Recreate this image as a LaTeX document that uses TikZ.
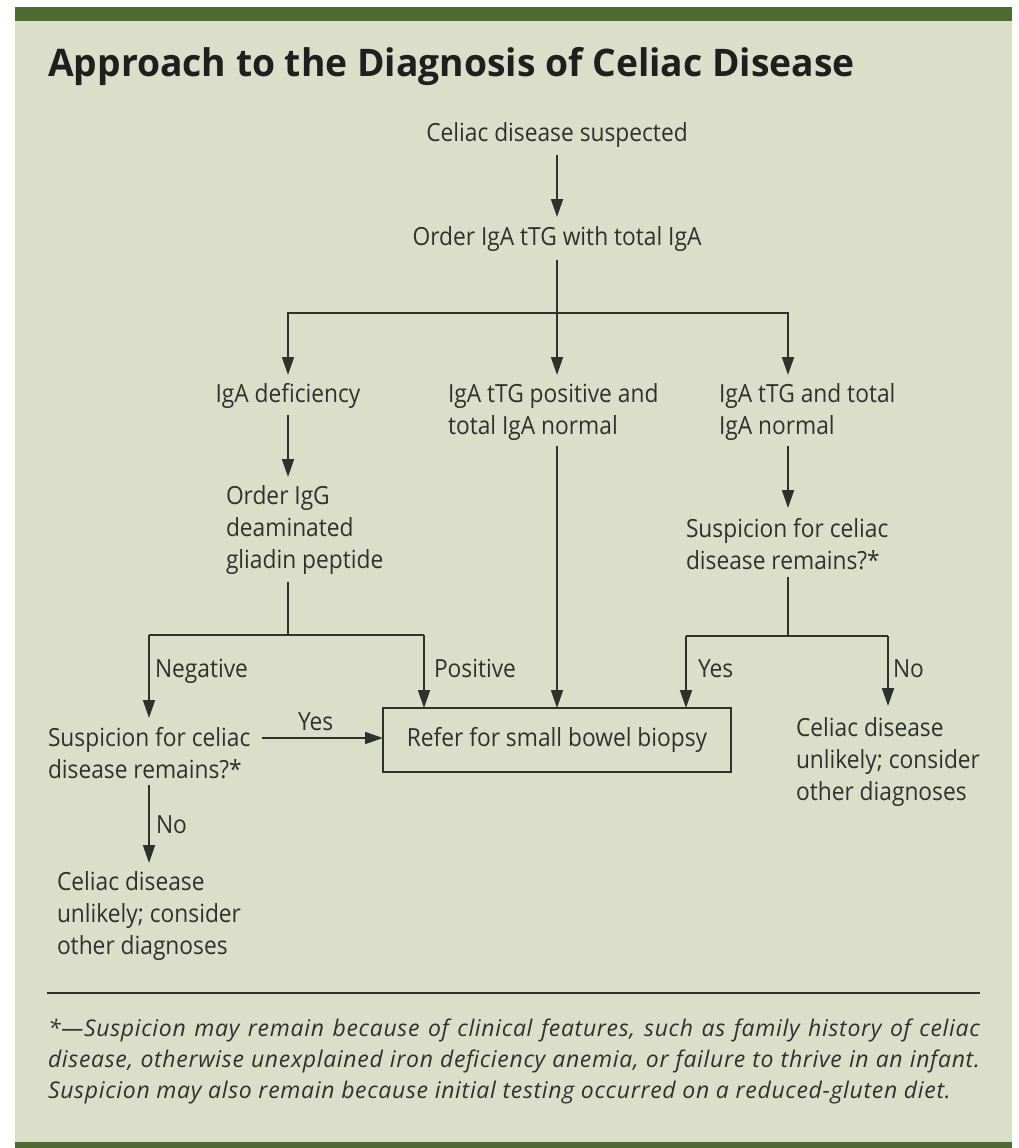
\documentclass[tikz,border=0pt]{standalone}
\usepackage{fontspec}
\setmainfont{Open Sans}[FakeStretch=0.91]
\newfontfamily\titlefont{Open Sans}[FakeStretch=0.98]
\newfontfamily\notefont{Open Sans}[FakeStretch=1.0, LetterSpace=3]
\usetikzlibrary{arrows.meta,calc}

\definecolor{panel}{HTML}{DBDFCA}
\definecolor{bar}{HTML}{4E6B31}
\definecolor{ink}{HTML}{2F312C}

\tikzset{
  body/.style={inner sep=0pt, outer sep=0pt, text=ink,
    font=\fontsize{25}{32}\selectfont},
  lbl/.style={body, anchor=base west},
  % multi-line blocks are placed by the baseline of their last line
  blk/.style={body, anchor=base west, align=left},
  wire/.style={draw=ink, line width=1.8pt},
  arr/.style={wire, -{Triangle[length=18pt,width=12pt]}},
  biopsybox/.style={body, draw=ink, line width=1.8pt,
    minimum width=348pt, minimum height=64pt},
  note/.style={inner sep=0pt, outer sep=0pt, anchor=base west, text=ink,
    font=\notefont\itshape\fontsize{23}{31}\selectfont},
}

\begin{document}
\begin{tikzpicture}[x=1pt, y=-1pt]
  \useasboundingbox (0,0) rectangle (1018,1148);
  \fill[white] (0,0) rectangle (1018,1148);
  % panel and green rules
  \fill[panel] (15,7) rectangle (1012,1148);
  \fill[bar] (15,7) rectangle (1012,21);
  \fill[bar] (15,1142) rectangle (1012,1148);

  % heading
  \node[anchor=base west, inner sep=0pt, text=black!88,
        font=\titlefont\fontsize{38}{44}\selectfont\bfseries] (title) at (48,77)
        {Approach to the Diagnosis of Celiac Disease};

  % steps
  \node[body, anchor=base] (susp) at (557,141) {Celiac disease suspected};
  \node[body, anchor=base] (order) at (557,245) {Order IgA tTG with total IgA};
  \node[body, anchor=base] (defic) at (288,402) {IgA deficiency};
  \node[blk] (pos) at (448,434) {IgA tTG positive and\\total IgA normal};
  \node[blk] (norm) at (719,434) {IgA tTG and total\\IgA normal};
  \node[blk] (ordg) at (226,568) {Order IgG\\deaminated\\gliadin peptide};
  \node[blk] (suspR) at (686,569) {Suspicion for celiac\\disease remains?*};
  \node[biopsybox] (biopsy) at (557,740) {Refer for small bowel biopsy};
  \node[blk] (suspL) at (48,778) {Suspicion for celiac\\disease remains?*};
  \node[blk] (unlL) at (57,954) {Celiac disease\\unlikely; consider\\other diagnoses};
  \node[blk] (unlR) at (796,800) {Celiac disease\\unlikely; consider\\other diagnoses};

  % branch points
  \coordinate (j1) at (557,313);
  \coordinate (j2) at (288,635);
  \coordinate (j3) at (788,636);
  \coordinate (jL) at (149,635);
  \coordinate (jP) at (424,635);
  \coordinate (jY) at (686,636);
  \coordinate (jN) at (888,636);

  % connectors
  \draw[arr] ($(susp.base)+(0,14)$) -- ($(order.base)+(0,-28)$);
  \draw[wire] ($(order.base)+(0,15)$) -- (j1);
  \draw[arr] (j1) -| ($(defic.base)+(0,-27)$);
  \draw[arr] (j1) -- ($(j1)+(0,62)$);
  \draw[arr] (j1) -| ($(norm.base -| j3)+(0,-59)$);

  \draw[arr] ($(defic.base)+(0,13)$) -- ($(ordg.base -| defic.base)+(0,-91)$);
  \draw[wire] ($(j2 |- ordg.south)+(0,8)$) -- (j2);
  \draw[wire] (jL) -- (jP);
  \draw[arr] (jL) -- ($(suspL.base -| jL)+(0,-60)$);
  \draw[arr] (jP) -- (jP |- biopsy.north);

  \draw[arr] ($(j1 |- pos.south)+(0,6)$) -- (j1 |- biopsy.north);

  \draw[arr] ($(j3 |- norm.south)+(0,6)$) -- ($(suspR.base -| j3)+(0,-61)$);
  \draw[wire] ($(j3 |- suspR.south)+(0,8)$) -- (j3);
  \draw[wire] (jY) -- (jN);
  \draw[arr] (jY) -- (jY |- biopsy.north);
  \draw[arr] (jN) -- ($(unlR.base -| jN)+(0,-94)$);

  \coordinate (yesL) at ($(suspL.base west)+(214,-40)$);
  \draw[arr] (yesL) -- (biopsy.west |- yesL);
  \draw[arr] ($(suspL.south -| jL)+(0,7)$) -- ($(unlL.base -| jL)+(0,-91)$);

  % branch labels
  \node[lbl] (lneg) at (155,677) {Negative};
  \node[lbl] (lpos) at (434,677) {Positive};
  \node[lbl] (lyesR) at (698,677) {Yes};
  \node[lbl] (lnoR) at (893,677) {No};
  \node[lbl] (lyesL) at (298,730) {Yes};
  \node[lbl] (lnoL) at (156,833) {No};

  % footnote
  \draw[draw=ink, line width=1.6pt] (47,993) coordinate (r1) -- (980,993) coordinate (r2);
  \node[note] (n1) at (48,1036) {\makebox[932pt][s]{*—Suspicion may remain because of clinical features, such as family history of celiac}};
  \node[note] (n2) at (48,1067) {\makebox[932pt][s]{disease, otherwise unexplained iron deficiency anemia, or failure to thrive in an infant.}};
  \node[note] (n3) at (48,1098) {Suspicion may also remain because initial testing occurred on a reduced-gluten diet.};
\end{tikzpicture}
\end{document}
